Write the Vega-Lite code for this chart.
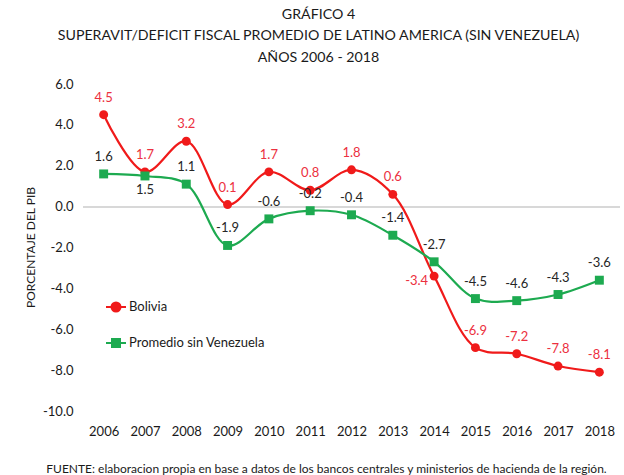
{
  "$schema": "https://vega.github.io/schema/vega-lite/v6.json",
  "autosize": {"type": "none"},
  "width": 537,
  "height": 327,
  "padding": {"left": 83, "top": 84, "right": 4, "bottom": 64},
  "background": "white",
  "config": {
    "font": "Lato",
    "view": {"stroke": null},
    "locale": {"number": {"decimal": ".", "thousands": ",", "grouping": [3], "currency": ["$", ""], "minus": "-"}}
  },
  "title": {
    "text": ["GRÁFICO 4", "SUPERAVIT/DEFICIT FISCAL PROMEDIO DE LATINO AMERICA (SIN VENEZUELA)", "AÑOS 2006 - 2018"],
    "fontSize": 14.2,
    "fontWeight": "normal",
    "color": "#1a1a1a",
    "lineHeight": 21.5,
    "anchor": "middle",
    "offset": 13,
    "dx": -33
  },
  "data": {
    "values": [
      {"year": "2006", "series": "Bolivia", "value": 4.5},
      {"year": "2007", "series": "Bolivia", "value": 1.7},
      {"year": "2008", "series": "Bolivia", "value": 3.2},
      {"year": "2009", "series": "Bolivia", "value": 0.1},
      {"year": "2010", "series": "Bolivia", "value": 1.7},
      {"year": "2011", "series": "Bolivia", "value": 0.8},
      {"year": "2012", "series": "Bolivia", "value": 1.8},
      {"year": "2013", "series": "Bolivia", "value": 0.6},
      {"year": "2014", "series": "Bolivia", "value": -3.4},
      {"year": "2015", "series": "Bolivia", "value": -6.9},
      {"year": "2016", "series": "Bolivia", "value": -7.2},
      {"year": "2017", "series": "Bolivia", "value": -7.8},
      {"year": "2018", "series": "Bolivia", "value": -8.1},
      {"year": "2006", "series": "Promedio sin Venezuela", "value": 1.6},
      {"year": "2007", "series": "Promedio sin Venezuela", "value": 1.5},
      {"year": "2008", "series": "Promedio sin Venezuela", "value": 1.1},
      {"year": "2009", "series": "Promedio sin Venezuela", "value": -1.9},
      {"year": "2010", "series": "Promedio sin Venezuela", "value": -0.6},
      {"year": "2011", "series": "Promedio sin Venezuela", "value": -0.2},
      {"year": "2012", "series": "Promedio sin Venezuela", "value": -0.4},
      {"year": "2013", "series": "Promedio sin Venezuela", "value": -1.4},
      {"year": "2014", "series": "Promedio sin Venezuela", "value": -2.7},
      {"year": "2015", "series": "Promedio sin Venezuela", "value": -4.5},
      {"year": "2016", "series": "Promedio sin Venezuela", "value": -4.6},
      {"year": "2017", "series": "Promedio sin Venezuela", "value": -4.3},
      {"year": "2018", "series": "Promedio sin Venezuela", "value": -3.6}
    ]
  },
  "encoding": {
    "x": {
      "field": "year",
      "type": "ordinal",
      "scale": {"type": "point", "padding": 0.5},
      "axis": {
        "labelAngle": 0,
        "labelFontSize": 13,
        "labelColor": "#1a1a1a",
        "labelPadding": 14,
        "domain": false,
        "ticks": false,
        "title": "FUENTE: elaboracion propia en base a datos de los bancos centrales y ministerios de hacienda de la región.",
        "titleFontSize": 12,
        "titleFontWeight": "normal",
        "titleColor": "#1a1a1a",
        "titleX": 243,
        "titleY": 52,
        "titleAlign": "center",
        "titleAnchor": null
      }
    },
    "y": {
      "field": "value",
      "type": "quantitative",
      "scale": {"domain": [-10, 6], "nice": false, "zero": false},
      "axis": {
        "values": [-10, -8, -6, -4, -2, 0, 2, 4, 6],
        "format": ".1f",
        "labelFontSize": 13,
        "labelColor": "#1a1a1a",
        "labelPadding": 10,
        "domain": false,
        "ticks": false,
        "grid": false,
        "title": "PORCENTAJE DEL PIB",
        "titleFontSize": 12,
        "titleFontWeight": "normal",
        "titleColor": "#1a1a1a",
        "titleX": -53,
        "titleY": 163,
        "titleAlign": "center",
        "titleBaseline": "middle"
      }
    },
    "color": {
      "field": "series",
      "type": "nominal",
      "scale": {"domain": ["Bolivia", "Promedio sin Venezuela"], "range": ["#f01a1a", "#1daa50"]},
      "legend": {
        "title": null,
        "orient": "none",
        "legendX": 22,
        "legendY": 212,
        "labelFontSize": 13,
        "labelColor": "#1a1a1a",
        "labelOffset": 2,
        "symbolSize": 400,
        "symbolStrokeWidth": 2,
        "rowPadding": 16,
        "encode": {
          "symbols": {
            "update": {
              "shape": {"signal": "datum.value === 'Bolivia' ? 'M-1,0L1,0M0.45,0A0.45,0.45,0,1,1,-0.45,0A0.45,0.45,0,1,1,0.45,0Z' : 'M-1,0L1,0M-0.4,-0.4L0.4,-0.4L0.4,0.4L-0.4,0.4Z'"},
              "stroke": {"scale": "color", "field": "value"},
              "fill": {"scale": "color", "field": "value"},
              "strokeWidth": {"value": 2},
              "fillOpacity": {"value": 1},
              "opacity": {"value": 1}
            }
          }
        }
      }
    }
  },
  "layer": [
    {
      "mark": {"type": "rule", "color": "#d9d9d9", "strokeWidth": 1},
      "encoding": {"y": {"datum": 0}, "x": null, "color": null}
    },
    {
      "mark": {"type": "line", "interpolate": "catmull-rom", "strokeWidth": 2.2},
      "encoding": {}
    },
    {
      "transform": [{"filter": "datum.series === 'Bolivia'"}],
      "mark": {"type": "point", "filled": true, "opacity": 1, "size": 80, "shape": "circle"},
      "encoding": {}
    },
    {
      "transform": [{"filter": "datum.series !== 'Bolivia'"}],
      "mark": {"type": "point", "filled": true, "opacity": 1, "size": 80, "shape": "square"},
      "encoding": {}
    },
    {
      "transform": [{"filter": "datum.series === 'Bolivia' && datum.year !== '2014'"}],
      "mark": {"type": "text", "dy": -17, "baseline": "middle", "fontSize": 13, "color": "#ec3040"},
      "encoding": {"text": {"field": "value", "type": "quantitative", "format": ".1f"}, "color": null}
    },
    {
      "transform": [{"filter": "datum.series === 'Bolivia' && datum.year === '2014'"}],
      "mark": {"type": "text", "dx": -6, "dy": 5, "align": "right", "baseline": "middle", "fontSize": 13, "color": "#ec3040"},
      "encoding": {"text": {"field": "value", "type": "quantitative", "format": ".1f"}, "color": null}
    },
    {
      "transform": [{"filter": "datum.series !== 'Bolivia' && datum.year !== '2007'"}],
      "mark": {"type": "text", "dy": -17, "baseline": "middle", "fontSize": 13, "color": "#262626"},
      "encoding": {"text": {"field": "value", "type": "quantitative", "format": ".1f"}, "color": null}
    },
    {
      "transform": [{"filter": "datum.series !== 'Bolivia' && datum.year === '2007'"}],
      "mark": {"type": "text", "dy": 14, "baseline": "middle", "fontSize": 13, "color": "#262626"},
      "encoding": {"text": {"field": "value", "type": "quantitative", "format": ".1f"}, "color": null}
    }
  ]
}
